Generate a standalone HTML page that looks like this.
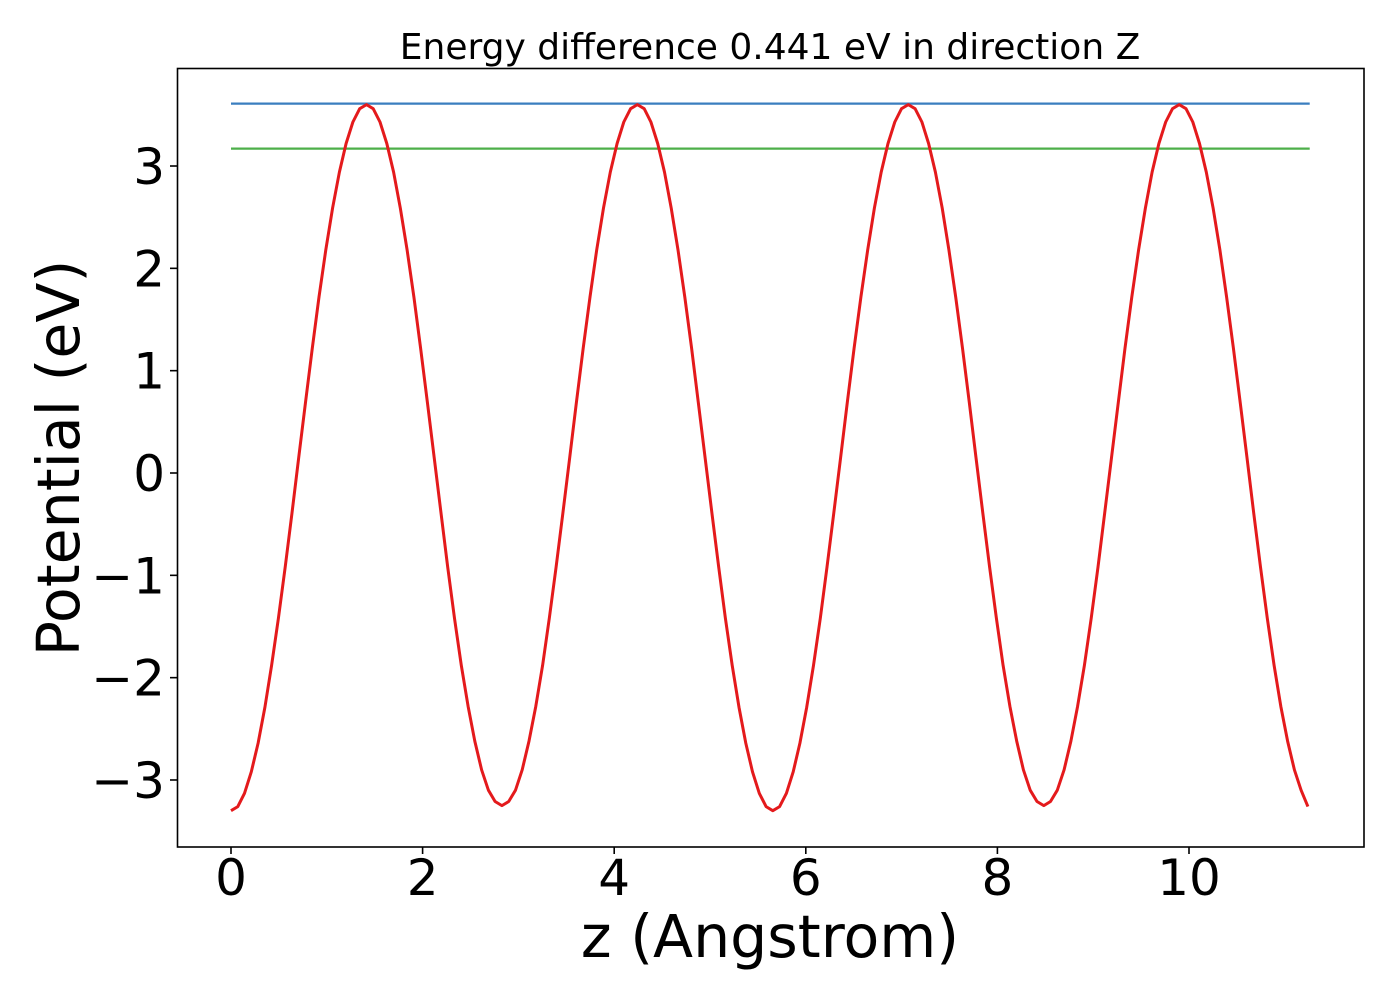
<!DOCTYPE html>
<html><head><meta charset="utf-8"><style>
html,body{margin:0;padding:0;background:#fff;width:1400px;height:1000px;overflow:hidden}
text{font-family:"DejaVu Sans","Liberation Sans",sans-serif;fill:#000}
</style></head><body>
<svg id="chart" width="1400" height="1000" xmlns="http://www.w3.org/2000/svg">
<text x="770" y="59" font-size="36" text-anchor="middle">Energy difference 0.441 eV in direction Z</text>
<g id="xticks"></g>
<g id="yticks"></g>
<g id="plot"></g>
<rect x="177.5" y="68.5" width="1186.5" height="778.5" fill="none" stroke="#000" stroke-width="1.6"/>
<text x="770" y="957" font-size="58.5" text-anchor="middle">z (Angstrom)</text>
<text transform="translate(79,458) rotate(-90)" font-size="58.5" text-anchor="middle">Potential (eV)</text>
</svg>
<script>
const xTicks=[0,2,4,6,8,10];
const yTicks=[-3,-2,-1,0,1,2,3];
const zStep=0.0707;
const potential=[
-3.30,-3.26,-3.13,-2.92,-2.64,-2.29,-1.88,-1.42,-0.92,-0.39,0.15,0.69,1.22,1.72,2.18,2.59,2.94,3.22,3.43,3.56,3.60,3.56,3.43,3.22,2.94,2.59,2.18,1.72,1.22,0.69,0.15,-0.39,-0.92,-1.42,-1.88,-2.28,-2.62,-2.90,-3.10,-3.21,
-3.25,-3.21,-3.10,-2.90,-2.62,-2.28,-1.88,-1.42,-0.92,-0.39,0.15,0.69,1.22,1.72,2.18,2.59,2.94,3.22,3.43,3.56,3.60,3.56,3.43,3.22,2.94,2.59,2.18,1.72,1.22,0.69,0.15,-0.39,-0.92,-1.42,-1.88,-2.29,-2.64,-2.92,-3.13,-3.26,
-3.30,-3.26,-3.13,-2.92,-2.64,-2.29,-1.88,-1.42,-0.92,-0.39,0.15,0.69,1.22,1.72,2.18,2.59,2.94,3.22,3.43,3.56,3.60,3.56,3.43,3.22,2.94,2.59,2.18,1.72,1.22,0.69,0.15,-0.39,-0.92,-1.42,-1.88,-2.28,-2.62,-2.90,-3.10,-3.21,
-3.25,-3.21,-3.10,-2.90,-2.62,-2.28,-1.88,-1.42,-0.92,-0.39,0.15,0.69,1.22,1.72,2.18,2.59,2.94,3.22,3.43,3.56,3.60,3.56,3.43,3.22,2.94,2.59,2.18,1.72,1.22,0.69,0.15,-0.39,-0.92,-1.42,-1.88,-2.28,-2.62,-2.90,-3.10,-3.26];
const maxLevel=[3.61];
const refLevel=[3.17];
const xMin=0, xMax=11.26;

const NS="http://www.w3.org/2000/svg";
function sx(v){return 231+v*95.8;}
function sy(v){return 473-v*102.33;}
function mk(tag,attrs,parent){const e=document.createElementNS(NS,tag);for(const k in attrs)e.setAttribute(k,attrs[k]);parent.appendChild(e);return e;}
const xg=document.getElementById('xticks'), yg=document.getElementById('yticks'), pg=document.getElementById('plot');
xTicks.forEach(t=>{
  const l=mk('line',{x1:sx(t),x2:sx(t),y1:847,y2:854,stroke:'#000','stroke-width':1.6},xg);
  
  
  const tx=mk('text',{x:sx(t),y:895,'font-size':50,'text-anchor':'middle'},xg);
  tx.textContent=String(t);
  
  
});
yTicks.forEach(t=>{
  const l=mk('line',{x1:170,x2:177.5,y1:sy(t),y2:sy(t),stroke:'#000','stroke-width':1.6},yg);
  
  
  const tx=mk('text',{x:165,y:sy(t)+18,'font-size':50,'text-anchor':'end'},yg);
  tx.textContent=(t<0?'\u2212':'')+Math.abs(t);
  
  
});
const bl=mk('line',{x1:sx(xMin),x2:sx(xMax),y1:sy(maxLevel[0]),y2:sy(maxLevel[0]),stroke:'#3a7ebf','stroke-width':2.2},pg);


const gl=mk('line',{x1:sx(xMin),x2:sx(xMax),y1:sy(refLevel[0]),y2:sy(refLevel[0]),stroke:'#4daf4a','stroke-width':2.2},pg);


const pts=potential.map((v,i)=>sx(i*zStep).toFixed(1)+','+sy(v).toFixed(1)).join(' ');
const pl=mk('polyline',{points:pts,fill:'none',stroke:'#e41a1c','stroke-width':3,'stroke-linejoin':'round'},pg);


</script>
</body></html>
